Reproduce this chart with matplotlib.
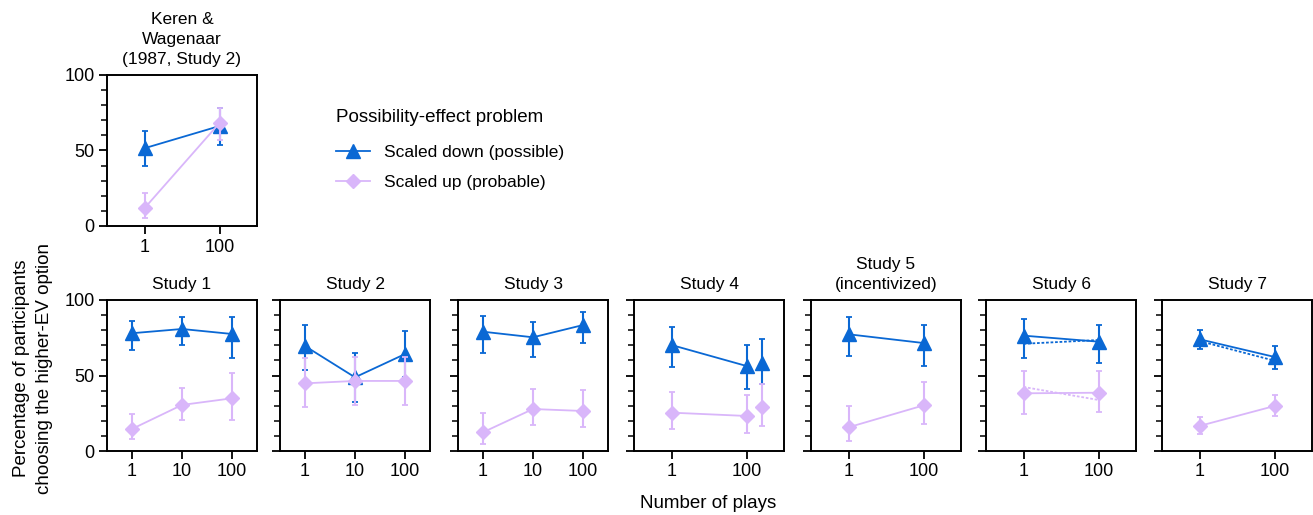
import numpy as np
import matplotlib.pyplot as plt

plt.rcParams['font.family'] = ['Liberation Sans', 'DejaVu Sans']

# Panel titles and x tick labels
titles = ['Keren &\nWagenaar\n(1987, Study 2)', 'Study 1', 'Study 2', 'Study 3',
          'Study 4', 'Study 5\n(incentivized)', 'Study 6', 'Study 7']
tick_labels = [['1', '100'], ['1', '10', '100'], ['1', '10', '100'], ['1', '10', '100'],
               ['1', '100'], ['1', '100'], ['1', '100'], ['1', '100']]
# x positions of points (Study 4 has an extra unlabeled point)
x_pos = [[0, 1], [0, 1, 2], [0, 1, 2], [0, 1, 2], [0, 1, 1.21], [0, 1], [0, 1], [0, 1]]

# Scaled down (possible)
down_mean = [[51.5, 66.2], [78.0, 80.8, 77.5], [69.5, 48.8, 64.2], [79.0, 75.3, 83.4],
             [70.2, 56.3, 58.5], [77.3, 71.5], [76.4, 72.4], [74.0, 62.3]]
down_lo = [[40.0, 53.8], [67.0, 70.4, 61.4], [53.6, 32.7, 49.0], [65.1, 62.5, 71.5],
           [55.8, 41.1, 44.4], [62.9, 56.5], [61.8, 58.0], [67.5, 54.3]]
down_hi = [[62.9, 78.4], [86.0, 89.0, 89.0], [83.2, 64.7, 79.5], [89.4, 85.4, 92.0],
           [82.3, 70.2, 74.2], [88.5, 83.6], [87.4, 83.2], [80.3, 69.3]]

# Scaled up (probable)
up_mean = [[11.8, 68.2], [14.6, 30.5, 34.9], [44.8, 46.4, 46.4], [12.4, 27.8, 26.5],
           [25.4, 23.2, 29.1], [15.7, 30.2], [38.2, 38.6], [16.6, 29.8]]
up_lo = [[5.1, 56.7], [7.7, 20.5, 20.5], [29.4, 30.5, 30.5], [4.9, 17.4, 15.9],
         [14.3, 12.1, 16.6], [6.6, 17.9], [24.7, 25.8], [11.3, 23.2]]
up_hi = [[21.6, 78.2], [24.3, 42.0, 51.4], [61.4, 62.5, 62.5], [25.2, 40.8, 40.2],
         [39.3, 37.3, 44.2], [29.6, 45.5], [53.2, 53.0], [22.3, 37.1]]

# Number of points joined by a line in each panel
n_line = [2, 3, 3, 3, 2, 2, 2, 2]

# Dashed series (Studies 6 and 7)
s6_down_dash = [71.0, 73.5]
s6_up_dash = [42.4, 33.8]
s7_down_dash = [72.8, 59.8]

blue = '#0a68d4'
pink = '#d9b6fa'

W, H = 1313, 515
fig = plt.figure(figsize=(W / 100, H / 100), dpi=100)

lefts = [107, 107, 280, 458, 634, 811, 986, 1162]
tops = [75, 300, 300, 300, 300, 300, 300, 300]
pw, ph = 150, 151

axes = []
for i in range(8):
    ax = fig.add_axes([lefts[i] / W, 1 - (tops[i] + ph) / H, pw / W, ph / H])
    axes.append(ax)
    n = len(tick_labels[i])
    xs = np.array(x_pos[i])
    k = n_line[i]

    for mean, lo, hi, col, mk, ms, z in [
            (down_mean, down_lo, down_hi, blue, '^', 10, 3),
            (up_mean, up_lo, up_hi, pink, 'D', 7.5, 4)]:
        m = np.array(mean[i])
        err = np.vstack([m - np.array(lo[i]), np.array(hi[i]) - m])
        ax.plot(xs[:k], m[:k], color=col, lw=1.3, zorder=z)
        ax.errorbar(xs, m, yerr=err, fmt=mk, color=col, ms=ms, elinewidth=1.5,
                    capsize=2.5, capthick=1.3, zorder=z)

    if i == 6:
        ax.plot(xs, s6_down_dash, color=blue, lw=1.3, ls=(0, (1.5, 1)), zorder=3)
        ax.plot(xs, s6_up_dash, color=pink, lw=1.3, ls=(0, (1.5, 1)), zorder=4)
    if i == 7:
        ax.plot(xs, s7_down_dash, color=blue, lw=1.3, ls=(0, (1.5, 1)), zorder=3)

    ax.set_xlim(-0.5, n - 0.5)
    ax.set_ylim(0, 100)
    ax.set_xticks(range(n))
    ax.set_xticklabels(tick_labels[i], fontsize=13)
    ax.set_yticks([0, 50, 100])
    ax.set_yticks(np.arange(0, 101, 10), minor=True)
    if i <= 1:
        ax.set_yticklabels(['0', '50', '100'], fontsize=13)
    else:
        ax.set_yticklabels([])
    ax.tick_params(axis='both', which='major', length=6, width=1.3, direction='out', pad=3)
    ax.tick_params(axis='y', which='minor', length=4, width=1.1, direction='out')
    for sp in ax.spines.values():
        sp.set_linewidth(1.4)
    ax.set_title(titles[i], fontsize=12.5, pad=8, linespacing=1.4)

# Legend
h1, = axes[0].plot([], [], color=blue, lw=1.3, marker='^', ms=10)
h2, = axes[0].plot([], [], color=pink, lw=1.3, marker='D', ms=7.5)
leg = fig.legend([h1, h2], ['Scaled down (possible)', 'Scaled up (probable)'],
                 loc='upper left', bbox_to_anchor=(320 / W, 1 - 93 / H),
                 frameon=False, fontsize=12.5, title='Possibility-effect problem',
                 title_fontsize=13.5, alignment='left', handlelength=2.0,
                 handletextpad=0.8, labelspacing=0.85)
leg._legend_box.sep = 14

fig.text(33 / W, 1 - 368 / H, 'Percentage of participants\nchoosing the higher-EV option',
         rotation=90, ha='center', va='center', fontsize=13.5, linespacing=1.4)
fig.text(708 / W, 1 - 503 / H, 'Number of plays', ha='center', va='center', fontsize=13.5)

fig.savefig('out.png', dpi=100)
